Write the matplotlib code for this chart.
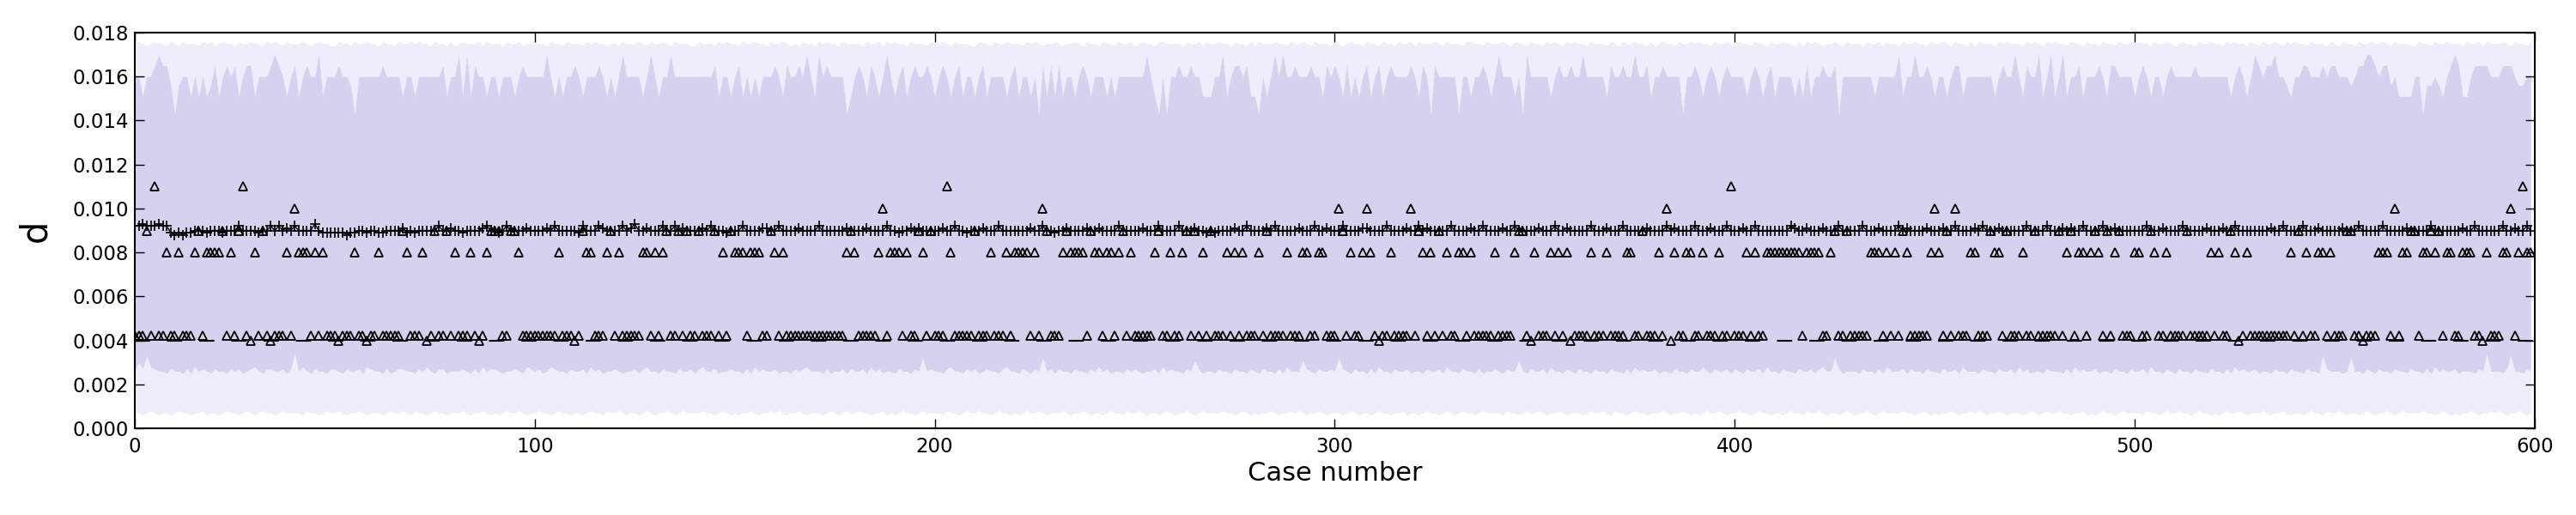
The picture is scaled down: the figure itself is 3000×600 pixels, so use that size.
import numpy as np
import matplotlib
matplotlib.use("Agg")
import matplotlib.pyplot as plt
from matplotlib.ticker import FormatStrFormatter

n_cases = 600
case = np.arange(n_cases)

# band edges, one character per case
# outer band top: 0.0170 + v * 1e-4
outer_top_code = (
    "5654565546" "5465554656" "4565546556" "5546565465" "5565456554"
    "4655465565" "5465546556" "5655465546" "4565556465" "5546556455"
    "6554655465" "5546565545" "5465556546" "5565465554" "4655546565"
    "5465565546" "5565454655" "4656554655" "5546556465" "6554655546"
    "5565465554" "4655465565" "5546565455" "6545565465" "5465546556"
    "4565546655" "5546556465" "5655465546" "4655565546" "5565465554"
    "6545655465" "5465546556" "4655565465" "5546655465" "5565465546"
    "5546565465" "6554655546" "5465565546" "4565546556" "5655465565"
    "4655465546" "5565546465" "6545565465" "5546556465" "5465565546"
    "5565465546" "4655546565" "5546565465" "6554655465" "5465546556"
    "5655465565" "4565546556" "5546565546" "5465565465" "6554655546"
    "5465546556" "5565465554" "4655465565" "5546556465" "5565465546"
)
# outer band bottom: 0.0004 + v * 1e-4
outer_bot_code = (
    "3323432332" "3433233423" "3234332343" "2343323433" "3324332343"
    "3432334323" "3323433432" "4332343323" "3343233432" "3234334323"
    "3433234332" "3323433243" "3432332343" "2334323433" "3343323432"
    "3233432334" "3432334323" "3323432343" "3433233423" "2343323433"
    "3324332343" "3433234332" "3234334323" "3343233432" "3323433243"
    "3432332343" "2334323433" "3343323432" "3233432334" "3432334323"
    "3323432332" "3433233423" "3234332343" "2343323433" "3324332343"
    "3432334323" "3323433432" "4332343323" "3343233432" "3234334323"
    "3433234332" "3323433243" "3432332343" "2334323433" "3343323432"
    "3233432334" "3432334323" "3323432343" "3433233423" "2343323433"
    "3324332343" "3433234332" "3234334323" "3343233432" "3323433243"
    "3432332343" "2334323433" "3343323432" "3233432334" "3432334323"
)
# inner band top: level codes
inner_top_levels = {"1": 0.0143, "2": 0.0151, "3": 0.0156,
                    "4": 0.0160, "5": 0.0165, "6": 0.0170}
inner_top_code = (
    "4424456553" "1344242423" "5245452455" "2444565424" "5245446244"
    "4544314444" "4454444244" "2444444524" "4626254424" "4244424544"
    "4446424244" "5424445424" "2464444246" "4244644444" "4444452442"
    "4524242444" "5425445464" "2645444412" "4542542464" "2452454454"
    "2454245244" "2452444424" "5244241525" "2524424542" "4442424444"
    "4446421414" "4544544222" "4462455452" "2142464644" "5444544254"
    "5425242452" "4524544445" "4254154444" "4144244542" "4644424164"
    "4444245445" "4464444425" "4454464452" "4454444144" "5424542454"
    "4442454245" "2444424252" "4454451444" "4444424444" "4624464454"
    "2442455244" "4444424544" "6425446246" "2462445244" "4542554444"
    "2454244245" "4444454444" "4444245424" "6545564432" "4455444545"
    "5444345566" "5455342222" "4413343245" "6522455554" "4455543344"
)
# inner band bottom: 0.0020 + v * 1e-4 (hex digit)
inner_bot_code = (
    "6a7d876657" "6657586765" "7665767567" "8657766757" "e686576657"
    "7657667587" "6657567766" "5768657756" "6676575867" "7656676587"
    "6756876657" "6675867566" "7656675786" "6576657667" "5786675667"
    "6657586766" "7566576786" "6657566757" "6675867566" "5766576c67"
    "6657866576" "7567665786" "6576576c67" "5766576657" "6867566576"
    "7656675867" "66576b7566" "5766576657" "6576657586" "66b7657667"
    "6c76576657" "5866576675" "6657667586" "6576657566" "765766b657"
    "6675866576" "5766576657" "6657586766" "7566576657" "6686576675"
    "7657667586" "6576657667" "57866c7566" "6576657586" "6675766576"
    "6576675866" "6576657667" "5867566576" "6657586766" "7566576657"
    "6675866576" "5766576657" "6657586766" "7566576657" "6657665d76"
    "6656c66576" "5766576657" "6657586766" "75666576e6" "6657d66576"
)
# '+' series: 0.0085 + v * 1e-4
plus_code = (
    "7787778774" "3434455545" "5545557555" "5455757565" "7555585444"
    "4443445545" "5445555645" "4555557556" "5545555675" "5457555565"
    "5556575555" "5475557655" "5575685565" "5575575655" "5565755545"
    "5575555665" "5755556555" "5755555565" "5556555575" "5455656555"
    "5565575545" "5565557555" "5555655755" "4556555565" "5655557555"
    "5565557555" "5755565545" "4555565575" "5556575555" "5655575565"
    "5575555665" "5557555565" "5756555557" "5555655755" "5565575555"
    "5655575565" "5555755565" "5575555565" "5557565555" "7555655575"
    "5565575555" "5555765565" "5565557555" "5575556555" "5756555565"
    "5565575555" "6575556555" "5557555575" "5565655755" "5575565555"
    "5557555655" "5575555565" "5565575555" "5555655755" "5575556555"
    "5565557555" "5575555565" "5555755555" "5565575555" "5575565575"
)

# triangle series: most cases sit at 0.0042
tri_base = 0.0042
tri_low = [29, 34, 51, 58, 73, 86, 110, 311, 349, 359, 384, 526, 557, 587]
tri_008 = [8, 11, 15, 18, 19, 20, 21, 24, 30, 38, 41, 42, 43, 45, 47, 55, 61,
           68, 72, 80, 84, 88, 96, 106, 113, 114, 118, 121, 127, 128, 130,
           132, 147, 150, 151, 152, 154, 155, 156, 160, 162, 178, 180, 186,
           189, 190, 191, 193, 197, 204, 214, 218, 220, 221, 222, 223, 225,
           232, 234, 235, 236, 237, 240, 241, 243, 244, 246, 249, 255, 259,
           262, 267, 273, 275, 277, 281, 288, 292, 293, 296, 297, 304, 307,
           309, 314, 322, 324, 328, 331, 332, 334, 340, 345, 350, 354, 356,
           358, 364, 368, 373, 374, 381, 385, 388, 389, 392, 396, 403, 405,
           408, 409, 410, 411, 412, 413, 414, 415, 416, 418, 419, 420, 421,
           424, 434, 435, 436, 438, 440, 443, 449, 451, 459, 460, 465, 466,
           472, 483, 486, 487, 489, 491, 495, 500, 501, 505, 508, 519, 521,
           525, 528, 539, 543, 546, 547, 549, 561, 562, 563, 567, 568, 572,
           573, 575, 578, 579, 582, 583, 584, 588, 592, 593, 596, 598, 599]
tri_009 = [3, 16, 22, 26, 32, 67, 75, 78, 89, 90, 91, 94, 95, 112, 119, 133,
           136, 138, 141, 145, 149, 159, 179, 196, 199, 210, 228, 233, 239,
           247, 256, 263, 265, 269, 283, 302, 321, 326, 346, 347, 377, 425,
           428, 442, 453, 464, 468, 475, 481, 484, 490, 493, 496, 504, 513,
           524, 541, 553, 554, 569, 570, 574, 576]
tri_010 = [40, 187, 227, 301, 308, 319, 383, 450, 455, 565, 594]
tri_011 = [5, 27, 203, 399, 597]

true_d = 0.004


def decode(code, base, step):
    return np.array([base + int(ch, 16) * step for ch in code])


outer_top = decode(outer_top_code, 0.0170, 1e-4)
outer_bot = decode(outer_bot_code, 0.0004, 1e-4)
inner_top = np.array([inner_top_levels[ch] for ch in inner_top_code])
inner_bot = decode(inner_bot_code, 0.0020, 1e-4)
plus_d = decode(plus_code, 0.0085, 1e-4)

tri_d = np.full(n_cases, tri_base)
tri_d[tri_low] = 0.0040
tri_d[tri_008] = 0.008
tri_d[tri_009] = 0.009
tri_d[tri_010] = 0.010
tri_d[tri_011] = 0.011

fig = plt.figure(figsize=(30, 6), dpi=100)
ax = fig.add_axes([0.0523, 0.1683, 0.9317, 0.7683])

ax.fill_between(case, outer_bot, outer_top, color="#efedfb", lw=0)
ax.fill_between(case, inner_bot, inner_top, color="#d5d2f0", lw=0)

ax.axhline(true_d, color="black", lw=1.5, dashes=(8.5, 9.5))
ax.plot(case, tri_d, ls="none", marker="^", ms=7, mfc="none",
        mec="black", mew=1.3)
ax.plot(case, plus_d, color="black", lw=1.0, marker="+", ms=8.5, mew=1.2)

ax.set_xlim(0, 600)
ax.set_ylim(0, 0.018)
ax.set_xticks(np.arange(0, 601, 100))
ax.set_yticks(np.arange(0, 0.0181, 0.002))
ax.yaxis.set_major_formatter(FormatStrFormatter("%.3f"))
ax.tick_params(direction="in", top=True, right=True, length=8, width=1,
               labelsize=16.5)
ax.tick_params(axis="x", pad=7)
ax.tick_params(axis="y", pad=5)
for s in ax.spines.values():
    s.set_linewidth(1.5)

ax.set_xlabel("Case number", fontsize=22, labelpad=4)
ax.set_ylabel("d", fontsize=30, labelpad=16)

fig.savefig("out.png", dpi=100)
